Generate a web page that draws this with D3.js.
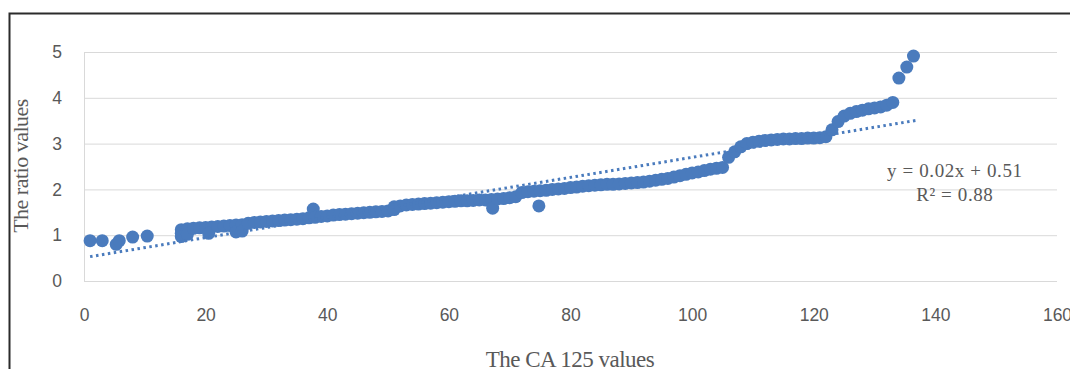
<!DOCTYPE html>
<html>
<head>
<meta charset="utf-8">
<script src="https://cdn.jsdelivr.net/npm/d3@7"></script>
<style>
  html, body { margin: 0; padding: 0; background: #fff; }
  .canvas { width: 1070px; height: 369px; overflow: hidden; }
</style>
</head>
<body>
<div class="canvas"></div>
<script>
// data
const caValues = [
  1, 3, 5.3, 5.8, 8, 10.4,
  16, 16, 16, 17, 17, 18, 19, 20, 21, 20.5, 22, 23, 24, 25, 25, 26, 26,
  27, 28, 29, 30, 31, 32, 33, 34, 35, 36, 37, 37.7, 38, 39, 40,
  41, 42, 43, 44, 45, 46, 47, 48, 49, 50, 51, 51, 52, 53, 54, 55, 56, 57, 58, 59, 60,
  61, 62, 63, 64, 65, 66, 67, 67.2, 68, 69, 70, 71, 72, 73, 74, 75, 74.8, 76, 77, 78, 79, 80,
  81, 82, 83, 84, 85, 86, 87, 88, 89, 90, 91, 92, 93, 94, 95, 96, 97, 98, 99, 100,
  101, 102, 103, 104, 105, 106, 107, 108, 109, 110, 111, 112, 113, 114, 115, 116, 117, 118, 119, 120,
  121, 122, 123, 124, 125, 126, 127, 128, 129, 130, 131, 132, 133, 134, 135.3, 136.4
];
const ratioValues = [
  0.88, 0.88, 0.80, 0.88, 0.96, 0.98,
  1.12, 1.04, 0.97, 1.14, 1.02, 1.15, 1.16, 1.17, 1.18, 1.04, 1.19, 1.20, 1.21, 1.22, 1.07, 1.23, 1.09,
  1.26, 1.28, 1.29, 1.30, 1.31, 1.32, 1.33, 1.34, 1.35, 1.36, 1.38, 1.57, 1.39, 1.41, 1.42,
  1.44, 1.45, 1.46, 1.47, 1.48, 1.49, 1.50, 1.51, 1.52, 1.53, 1.62, 1.56, 1.64, 1.66, 1.67, 1.68, 1.69, 1.70, 1.71, 1.72, 1.73,
  1.74, 1.75, 1.75, 1.76, 1.77, 1.77, 1.78, 1.59, 1.79, 1.80, 1.82, 1.84, 1.93, 1.95, 1.96, 1.97, 1.64, 1.98, 2.00, 2.01, 2.02, 2.04,
  2.05, 2.07, 2.08, 2.09, 2.10, 2.11, 2.11, 2.12, 2.13, 2.14, 2.15, 2.16, 2.18, 2.20, 2.22, 2.24, 2.27, 2.30, 2.33, 2.36,
  2.38, 2.41, 2.44, 2.46, 2.48, 2.70, 2.82, 2.93, 3.00, 3.03, 3.05, 3.07, 3.08, 3.09, 3.10, 3.10, 3.11, 3.11, 3.12, 3.12,
  3.13, 3.15, 3.30, 3.48, 3.60, 3.66, 3.70, 3.73, 3.76, 3.78, 3.80, 3.84, 3.90, 4.43, 4.67, 4.91
];
const xTicks = [0, 20, 40, 60, 80, 100, 120, 140, 160];
const yTicks = [0, 1, 2, 3, 4, 5];
// linear trend (shown rounded in the label)
const trendX = [1, 137];
const trendSlope = 0.0219;
const trendIntercept = 0.51;
const trendLabel = ['y = 0.02x + 0.51', 'R² = 0.88'];

const points = caValues.map((v, i) => ({ x: v, y: ratioValues[i] }));

const svg = d3.select('.canvas')
    .append('svg')
    .attr('width', 1070)
    .attr('height', 369);

// frame around the figure
svg.append('rect')
    .attr('x', 9.5)
    .attr('y', 13.5)
    .attr('width', 1100)
    .attr('height', 400)
    .attr('fill', 'none')
    .attr('stroke', '#2b2b2b')
    .attr('stroke-width', 2);

const margin = { top: 52, right: 13, bottom: 88, left: 84 };
const graphWidth = 1070 - margin.left - margin.right;
const graphHeight = 369 - margin.top - margin.bottom;

const graph = svg.append('g')
    .attr('transform', `translate(${margin.left}, ${margin.top})`);

const x = d3.scaleLinear()
    .domain([0, 160])
    .range([0, graphWidth]);

const y = d3.scaleLinear()
    .domain([0, 5])
    .range([graphHeight, 0]);

// gridlines
const yAxisGroup = graph.append('g');
yAxisGroup.call(d3.axisLeft(y).tickValues(yTicks).tickSize(-graphWidth).tickPadding(22).tickFormat(d3.format('d')));
yAxisGroup.select('.domain').attr('stroke', '#d9d9d9');
yAxisGroup.selectAll('.tick line').attr('stroke', '#d9d9d9');
yAxisGroup.selectAll('text')
    .attr('fill', '#595959')
    .attr('font-family', '"Liberation Sans", Arial, sans-serif')
    .attr('font-size', 17.5);

const xAxisGroup = graph.append('g')
    .attr('transform', `translate(0, ${graphHeight})`);
xAxisGroup.call(d3.axisBottom(x).tickValues(xTicks).tickSize(0).tickPadding(28));
xAxisGroup.select('.domain').remove();
xAxisGroup.selectAll('text')
    .attr('fill', '#595959')
    .attr('font-family', '"Liberation Sans", Arial, sans-serif')
    .attr('font-size', 17.5);

// points
graph.selectAll('circle')
    .data(points)
    .enter()
    .append('circle')
    .attr('cx', d => x(d.x))
    .attr('cy', d => y(d.y))
    .attr('r', 6.5)
    .attr('fill', '#4a7bbd');

// dotted trend line
const trendLine = d3.line()
    .x(d => x(d))
    .y(d => y(trendIntercept + trendSlope * d));

graph.append('path')
    .datum(trendX)
    .attr('d', trendLine)
    .attr('fill', 'none')
    .attr('stroke', '#4a7bbd')
    .attr('stroke-width', 3)
    .attr('stroke-dasharray', '2.5,3.5');

// equation label
graph.selectAll('.eq')
    .data(trendLabel)
    .enter()
    .append('text')
    .attr('class', 'eq')
    .attr('x', x(143.2))
    .attr('y', (d, i) => y(2.4) + 6 + i * 24)
    .attr('text-anchor', 'middle')
    .attr('fill', '#595959')
    .attr('font-family', '"Liberation Serif", "Times New Roman", serif')
    .attr('font-size', 19)
    .attr('letter-spacing', 0.6)
    .text(d => d);

// axis titles
svg.append('text')
    .attr('x', 570)
    .attr('y', 367)
    .attr('text-anchor', 'middle')
    .attr('fill', '#595959')
    .attr('font-family', '"Liberation Serif", "Times New Roman", serif')
    .attr('font-size', 23)
    .attr('letter-spacing', -0.5)
    .text('The CA 125 values');

svg.append('text')
    .attr('transform', 'translate(28, 166) rotate(-90)')
    .attr('text-anchor', 'middle')
    .attr('fill', '#595959')
    .attr('font-family', '"Liberation Serif", "Times New Roman", serif')
    .attr('font-size', 22)
    .attr('letter-spacing', -0.5)
    .text('The ratio values');
</script>
</body>
</html>
